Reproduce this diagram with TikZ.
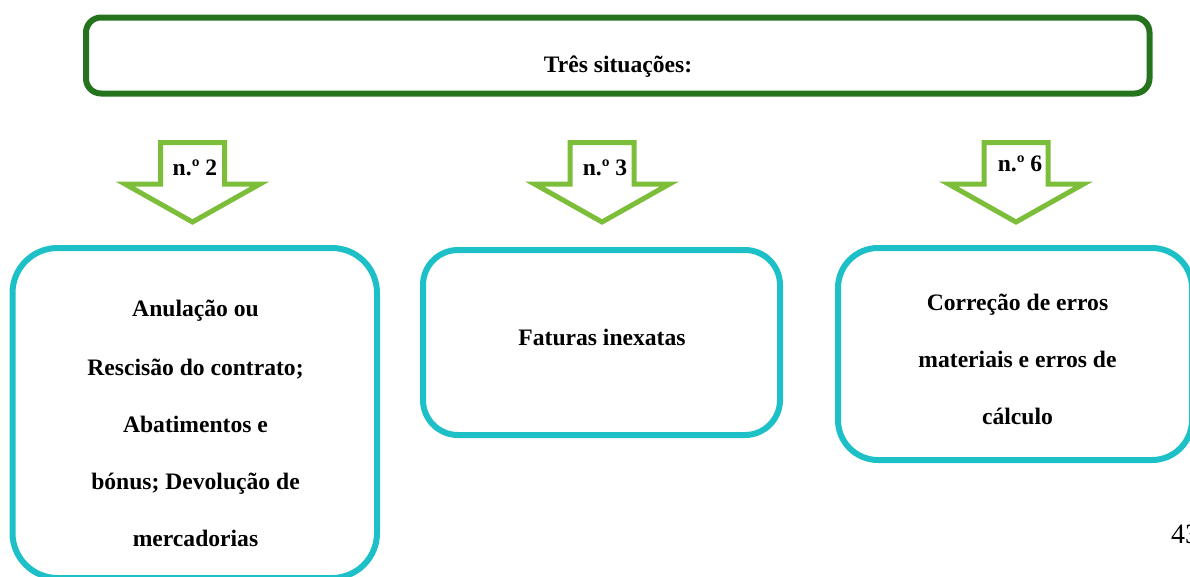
\documentclass[tikz,border=0pt]{standalone}
\usepackage{fontspec}
\setmainfont{Liberation Serif}
\definecolor{dgreen}{RGB}{38,115,30}
\definecolor{lgreen}{RGB}{124,190,58}
\definecolor{teal2}{RGB}{30,192,200}
\begin{document}
\begin{tikzpicture}[x=1pt,y=-1pt,
  topbox/.style={draw=dgreen,line width=6pt,rounded corners=15pt},
  casebox/.style={draw=teal2,line width=6pt},
  txt/.style={font=\fontsize{23.6}{28}\selectfont\bfseries,inner sep=0pt,anchor=base},
  arrowline/.style={draw=lgreen,line width=5pt,line join=miter},
  downarrow/.pic={\path[arrowline] (-32,0) -- (32,0) -- (32,41.5) -- (67.5,41.5) -- (0,79.5) -- (-67.5,41.5) -- (-32,41.5) -- cycle;}
]
\useasboundingbox (0,0) rectangle (1190,576);
% top box
\draw[topbox] (86,17.5) rectangle (1149.5,93.5);
\node[txt] (title) at (618,72.5) {Três situações:};
% arrows
\pic at (192.5,142.5) {downarrow};
\pic at (602,142.5) {downarrow};
\pic at (1016,142.5) {downarrow};
\node[txt] (n2) at (195,175) {n.º 2};
\node[txt] (n3) at (605,175) {n.º 3};
\node[txt] (n6) at (1020,171) {n.º 6};
% boxes
\draw[casebox,rounded corners=45pt] (12.5,248) rectangle (377,578);
\draw[casebox,rounded corners=35pt] (423,250) rectangle (780,435);
\draw[casebox,rounded corners=40pt] (838,248) rectangle (1192,460);
% box texts
\node[txt] (a1) at (195.5,316) {Anulação ou};
\node[txt] (a2) at (195.5,375) {Rescisão do contrato;};
\node[txt] (a3) at (195.5,432) {Abatimentos e};
\node[txt] (a4) at (195.5,489) {bónus; Devolução de};
\node[txt] (a5) at (195.5,546) {mercadorias};
\node[txt] (b1) at (602,345) {Faturas inexatas};
\node[txt] (c1) at (1017.5,310) {Correção de erros};
\node[txt] (c2) at (1017.5,367) {materiais e erros de};
\node[txt] (c3) at (1017.5,424) {cálculo};
% page number
\node[font=\fontsize{28}{32}\selectfont,inner sep=0pt,anchor=base west] (page) at (1171,543) {43};
\end{tikzpicture}
\end{document}
